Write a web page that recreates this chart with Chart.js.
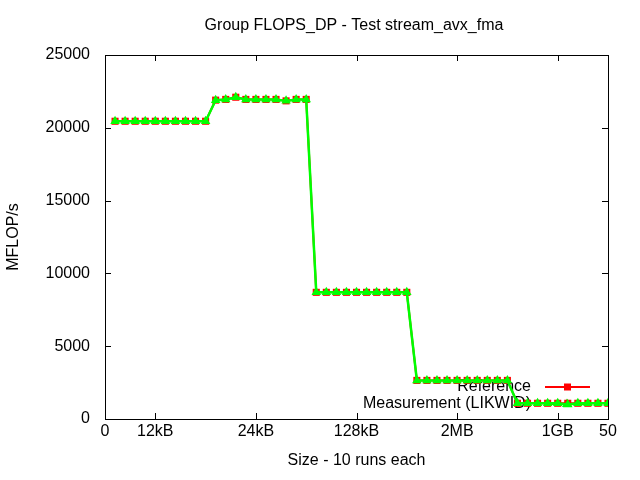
<!DOCTYPE html>
<html>
<head>
<meta charset="utf-8">
<script src="https://cdn.jsdelivr.net/npm/chart.js@4"></script>
<style>
  html, body { margin: 0; padding: 0; background: #fff; }
  #wrap { width: 640px; height: 480px; }
</style>
</head>
<body>
<div id="wrap"><canvas id="chart" width="640" height="480"></canvas></div>
<script>
'use strict'

// values, one per run (x = 1..50)
const reference = [
  20450, 20450, 20450, 20450, 20450, 20450, 20450, 20450, 20450, 20450,
  21900, 21950, 22100, 21950, 21950, 21950, 21950, 21850, 21950, 21950,
  8700, 8700, 8700, 8700, 8700, 8700, 8700, 8700, 8700, 8700,
  2650, 2650, 2650, 2650, 2650, 2650, 2650, 2650, 2650, 2650,
  1080, 1080, 1080, 1080, 1080, 1080, 1080, 1080, 1080, 1080
]
const measurement = [
  20450, 20450, 20450, 20450, 20450, 20450, 20450, 20450, 20450, 20450,
  21900, 21950, 22100, 21950, 21950, 21950, 21950, 21850, 21950, 21950,
  8700, 8700, 8700, 8700, 8700, 8700, 8700, 8700, 8700, 8700,
  2650, 2650, 2650, 2650, 2650, 2650, 2650, 2650, 2650, 2650,
  1080, 1080, 1080, 1080, 1080, 1000, 1080, 1080, 1080, 1080
]
const xTickValues = [0, 5, 15, 25, 35, 45, 50]
const xTickLabels = ['0', '12kB', '24kB', '128kB', '2MB', '1GB', '50']
const yTickValues = [0, 5000, 10000, 15000, 20000, 25000]
const titleText = 'Group FLOPS_DP - Test stream_avx_fma'

const FONT = 'Liberation Sans, Arial, sans-serif'
const SIZE = 16

// title, centred roughly on the plot like gnuplot
const titlePlugin = {
  id: 'gpTitle',
  afterDraw (chart) {
    const { ctx } = chart
    ctx.save()
    ctx.font = SIZE + 'px ' + FONT
    ctx.fillStyle = '#000'
    ctx.textAlign = 'center'
    ctx.textBaseline = 'middle'
    ctx.fillText(titleText, 354, 26)
    ctx.restore()
  }
}

// gnuplot style frame with inward ticks on all four sides
const framePlugin = {
  id: 'frame',
  afterDatasetsDraw (chart) {
    const { ctx, chartArea: a, scales } = chart
    ctx.save()
    ctx.strokeStyle = '#000'
    ctx.lineWidth = 1
    ctx.beginPath()
    for (const v of xTickValues.slice(1, -1)) {
      const x = Math.round(scales.x.getPixelForValue(v)) + 0.5
      ctx.moveTo(x, a.bottom); ctx.lineTo(x, a.bottom - 6)
      ctx.moveTo(x, a.top); ctx.lineTo(x, a.top + 6)
    }
    for (const v of yTickValues.slice(1, -1)) {
      const y = Math.round(scales.y.getPixelForValue(v)) + 0.5
      ctx.moveTo(a.left, y); ctx.lineTo(a.left + 6, y)
      ctx.moveTo(a.right, y); ctx.lineTo(a.right - 6, y)
    }
    ctx.stroke()
    ctx.strokeRect(Math.round(a.left) + 0.5, Math.round(a.top) + 0.5,
      Math.round(a.right - a.left), Math.round(a.bottom - a.top))
    ctx.restore()
  }
}

// key in the lower right, drawn under the data like gnuplot does
const keyPlugin = {
  id: 'key',
  beforeDatasetsDraw (chart) {
    const { ctx } = chart
    const rows = [
      { text: 'Reference', color: 'rgb(255,0,0)', y: 387, marker: 'square' },
      { text: 'Measurement (LIKWID)', color: 'rgb(0,255,0)', y: 404, marker: 'triangle' }
    ]
    ctx.save()
    ctx.font = SIZE + 'px ' + FONT
    ctx.textAlign = 'right'
    ctx.textBaseline = 'middle'
    for (const r of rows) {
      ctx.fillStyle = '#000'
      ctx.fillText(r.text, 531, r.y)
      ctx.strokeStyle = r.color
      ctx.lineWidth = 2
      ctx.beginPath()
      ctx.moveTo(545, r.y); ctx.lineTo(590, r.y)
      ctx.stroke()
      ctx.fillStyle = r.color
      if (r.marker === 'square') {
        ctx.fillRect(564, r.y - 3.5, 7, 7)
      } else {
        ctx.beginPath()
        ctx.moveTo(567, r.y - 5.5); ctx.lineTo(572, r.y + 3); ctx.lineTo(562, r.y + 3)
        ctx.closePath(); ctx.fill()
      }
    }
    ctx.restore()
  }
}

const toPoints = (arr) => arr.map((v, i) => ({ x: i + 1, y: v }))

new Chart(document.getElementById('chart').getContext('2d'), {
  type: 'line',
  data: {
    datasets: [
      {
        label: 'Reference',
        data: toPoints(reference),
        order: 2,
        borderColor: 'rgb(255,0,0)',
        backgroundColor: 'rgb(255,0,0)',
        borderWidth: 2,
        pointStyle: 'rect',
        pointRadius: 5,
        pointBorderWidth: 0,
        tension: 0
      },
      {
        label: 'Measurement (LIKWID)',
        data: toPoints(measurement),
        order: 1,
        borderColor: 'rgb(0,255,0)',
        backgroundColor: 'rgb(0,255,0)',
        borderWidth: 2.5,
        pointStyle: 'triangle',
        pointRadius: 5.5,
        pointBorderWidth: 0,
        tension: 0
      }
    ]
  },
  options: {
    responsive: false,
    animation: false,
    layout: { padding: { top: 55, right: 32, left: 0, bottom: 0 } },
    plugins: {
      legend: { display: false },
      tooltip: { enabled: false },
      title: { display: false }
    },
    scales: {
      x: {
        type: 'linear',
        min: 0,
        max: 50,
        afterBuildTicks (scale) { scale.ticks = xTickValues.map(v => ({ value: v })) },
        afterFit (scale) { scale.height = 61 },
        ticks: {
          color: '#000',
          font: { family: FONT, size: SIZE },
          padding: 3,
          maxRotation: 0,
          autoSkip: false,
          callback: (v) => xTickLabels[xTickValues.indexOf(v)]
        },
        grid: { display: false, drawTicks: false },
        border: { display: false },
        title: {
          display: true,
          text: 'Size - 10 runs each',
          color: '#000',
          font: { family: FONT, size: SIZE, lineHeight: 1.2 },
          padding: { top: 0, bottom: 10 }
        }
      },
      y: {
        min: 0,
        max: 25000,
        afterBuildTicks (scale) { scale.ticks = yTickValues.map(v => ({ value: v })) },
        afterFit (scale) { scale.width = 105 },
        ticks: {
          color: '#000',
          font: { family: FONT, size: SIZE },
          padding: 15,
          callback: (v) => String(v)
        },
        grid: { display: false, drawTicks: false },
        border: { display: false },
        title: {
          display: true,
          text: 'MFLOP/s',
          color: '#000',
          font: { family: FONT, size: SIZE, lineHeight: 1.2 },
          padding: { top: 4, bottom: 0 }
        }
      }
    }
  },
  plugins: [keyPlugin, framePlugin, titlePlugin]
})
</script>
</body>
</html>
